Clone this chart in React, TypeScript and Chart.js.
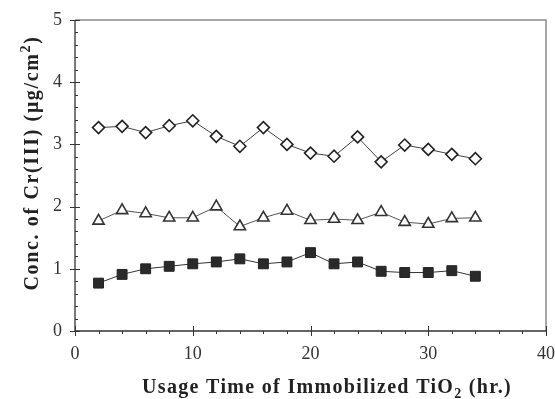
import React, { useEffect, useRef } from 'react';
import { Chart, registerables } from 'chart.js';

Chart.register(...registerables);

const hours = [2, 4, 6, 8, 10, 12, 14, 16, 18, 20, 22, 24, 26, 28, 30, 32, 34];
const diamondSeries = [3.27, 3.29, 3.19, 3.3, 3.38, 3.13, 2.97, 3.27, 3.0, 2.86, 2.81, 3.12, 2.72, 2.99, 2.92, 2.84, 2.77];
const triangleSeries = [1.77, 1.94, 1.89, 1.82, 1.82, 2.0, 1.68, 1.82, 1.93, 1.78, 1.8, 1.78, 1.91, 1.75, 1.72, 1.81, 1.82];
const squareSeries = [0.77, 0.91, 1.0, 1.04, 1.08, 1.11, 1.16, 1.08, 1.11, 1.26, 1.08, 1.11, 0.96, 0.94, 0.94, 0.97, 0.88];

const xMin = 0, xMax = 40, xStep = 10, xMinorStep = 2;
const yMin = 0, yMax = 5, yStep = 1, yMinorStep = 0.2;

const xTitleParts = [
  { text: 'Usage Time of Immobilized TiO', mode: 'normal' },
  { text: '2', mode: 'sub' },
  { text: ' (hr.)', mode: 'normal' },
];
const yTitleParts = [
  { text: 'Conc. of Cr(III) (μg/cm', mode: 'normal' },
  { text: '2', mode: 'sup' },
  { text: ')', mode: 'normal' },
];

const SERIF = "'Liberation Serif', 'Times New Roman', serif";

function drawRich(ctx: CanvasRenderingContext2D, parts: any[], size: number, targetWidth: number) {
  const fontFor = (m: string) => `bold ${m === 'normal' ? size : Math.round(size * 0.68)}px ${SERIF}`;
  let natural = 0;
  let chars = 0;
  for (const p of parts) {
    ctx.font = fontFor(p.mode);
    (ctx as any).letterSpacing = '0px';
    natural += ctx.measureText(p.text).width;
    chars += p.text.length;
  }
  const sp = Math.max(0, (targetWidth - natural) / chars);
  let x = -(natural + sp * chars) / 2;
  ctx.textBaseline = 'alphabetic';
  ctx.textAlign = 'left';
  for (const p of parts) {
    ctx.font = fontFor(p.mode);
    (ctx as any).letterSpacing = `${sp}px`;
    const dy = p.mode === 'sub' ? size * 0.25 : p.mode === 'sup' ? -size * 0.42 : 0;
    ctx.fillText(p.text, x, dy);
    x += ctx.measureText(p.text).width;
  }
  (ctx as any).letterSpacing = '0px';
}

const framePlugin = {
  id: 'frame',
  afterDraw(chart: any) {
    const { ctx, chartArea } = chart;
    const { left, right, top, bottom } = chartArea;
    const xs = chart.scales.x;
    const ys = chart.scales.y;
    ctx.save();
    ctx.strokeStyle = '#8a8a8a';
    ctx.lineWidth = 1.5;
    ctx.beginPath();
    ctx.moveTo(left, top);
    ctx.lineTo(right, top);
    ctx.lineTo(right, bottom);
    ctx.stroke();
    ctx.strokeStyle = '#333';
    ctx.lineWidth = 1.3;
    ctx.beginPath();
    ctx.moveTo(left, top);
    ctx.lineTo(left, bottom);
    ctx.lineTo(right, bottom);
    ctx.stroke();
    ctx.lineWidth = 1;
    ctx.beginPath();
    for (let v = yMin; v <= yMax + 1e-9; v += yMinorStep) {
      const py = Math.round(ys.getPixelForValue(v)) + 0.5;
      const major = Math.abs(v / yStep - Math.round(v / yStep)) < 1e-6;
      if (major) {
        ctx.moveTo(left - 5, py);
        ctx.lineTo(left + 5, py);
      } else {
        ctx.moveTo(left, py);
        ctx.lineTo(left + 3, py);
      }
    }
    for (let v = xMin; v <= xMax + 1e-9; v += xMinorStep) {
      const px = Math.round(xs.getPixelForValue(v)) + 0.5;
      const major = Math.abs(v / xStep - Math.round(v / xStep)) < 1e-6;
      if (major) {
        ctx.moveTo(px, bottom - 5);
        ctx.lineTo(px, bottom + 5);
      } else {
        ctx.moveTo(px, bottom);
        ctx.lineTo(px, bottom + 3);
      }
    }
    ctx.stroke();
    ctx.fillStyle = '#222';
    ctx.save();
    ctx.translate(327, 393);
    drawRich(ctx, xTitleParts, 20, 370);
    ctx.restore();
    ctx.save();
    ctx.translate(38, 163);
    ctx.rotate(-Math.PI / 2);
    drawRich(ctx, yTitleParts, 20, 255);
    ctx.restore();
    ctx.restore();
  },
};

export default function App() {
  const ref = useRef<HTMLCanvasElement>(null);
  useEffect(() => {
    document.body.style.margin = '0';
    const mk = (d: number[]) => hours.map((h, i) => ({ x: h, y: d[i] }));
    const chart = new Chart(ref.current as HTMLCanvasElement, {
      type: 'line',
      data: {
        datasets: [
          {
            data: mk(diamondSeries),
            borderColor: '#444',
            borderWidth: 1,
            pointStyle: 'rectRot',
            pointRadius: 6,
            pointBorderWidth: 1.6,
            pointBorderColor: '#222',
            pointBackgroundColor: '#fff',
          },
          {
            data: mk(triangleSeries),
            borderColor: '#555',
            borderWidth: 1,
            pointStyle: 'triangle',
            pointRadius: 6.5,
            pointBorderWidth: 1.6,
            pointBorderColor: '#333',
            pointBackgroundColor: '#fff',
          },
          {
            data: mk(squareSeries),
            borderColor: '#333',
            borderWidth: 1,
            pointStyle: 'rect',
            pointRadius: 7,
            pointBorderWidth: 1,
            pointBorderColor: '#222',
            pointBackgroundColor: '#2a2a2a',
          },
        ],
      },
      options: {
        animation: false,
        responsive: true,
        maintainAspectRatio: false,
        layout: { padding: { left: 0, right: 9, top: 20, bottom: 0 } },
        plugins: { legend: { display: false }, tooltip: { enabled: false } },
        scales: {
          x: {
            type: 'linear',
            min: xMin,
            max: xMax,
            ticks: { stepSize: xStep, color: '#333', font: { family: SERIF, size: 18 }, padding: 12, maxRotation: 0 },
            grid: { display: false, drawTicks: false },
            border: { display: false },
            afterFit: (s: any) => { s.height = 68; s.paddingRight = 0; s.paddingLeft = 0; },
          },
          y: {
            type: 'linear',
            min: yMin,
            max: yMax,
            ticks: { stepSize: yStep, color: '#333', font: { family: SERIF, size: 18 }, padding: 13 },
            grid: { display: false, drawTicks: false },
            border: { display: false },
            afterFit: (s: any) => { s.width = 75; s.paddingTop = 0; s.paddingBottom = 0; },
          },
        },
      },
      plugins: [framePlugin],
    });
    return () => chart.destroy();
  }, []);
  return (
    <div style={{ position: 'relative', width: 555, height: 399 }}>
      <canvas ref={ref} />
    </div>
  );
}
